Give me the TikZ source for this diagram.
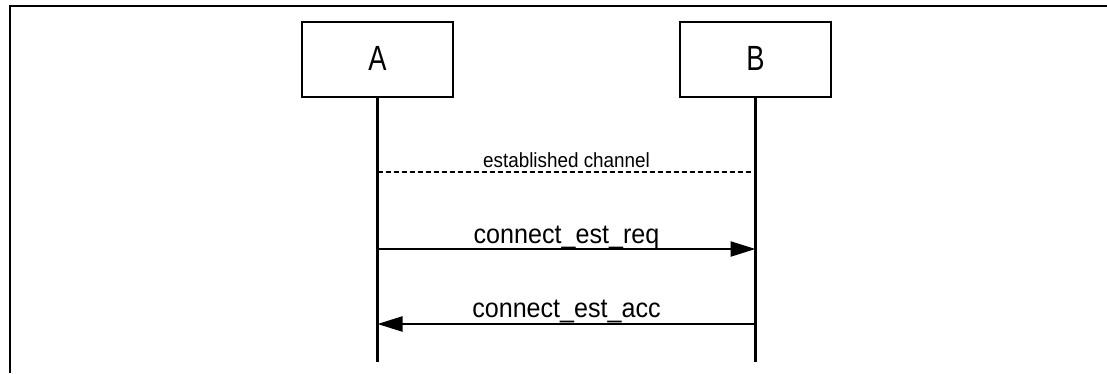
\documentclass[tikz,border=0pt]{standalone}
\usepackage{fontspec}
\setmainfont{Liberation Sans}
\usetikzlibrary{arrows.meta}
\begin{document}
\begin{tikzpicture}[x=1pt,y=-1pt,
  ln/.style={line width=2.3pt},
  objbox/.style={draw,line width=2.3pt,minimum width=151pt,minimum height=75pt,
    inner sep=0pt,text height=25pt,text depth=4pt,font=\fontsize{35}{38}\selectfont},
  msg/.style={line width=2.3pt,-{Triangle[length=25pt,width=15pt]}},
  dashmsg/.style={line width=1.8pt,dash pattern=on 5pt off 3pt},
  msglabel/.style={font=\fontsize{27}{30}\selectfont,inner sep=0pt,anchor=base},
  smalllabel/.style={font=\fontsize{20.5}{24}\selectfont,inner sep=0pt,anchor=base}
]
\useasboundingbox (0,0) rectangle (1107,373);
% frame
\coordinate (fl) at (10,373);
\coordinate (ftl) at (10,6);
\coordinate (ftr) at (1107,6);
\draw[ln] (fl) -- (ftl) -- (ftr);
% objects
\node[objbox] (A) at (377.5,59.5) {\scalebox{0.78}[1]{A}};
\node[objbox] (B) at (755.5,59.5) {\scalebox{0.78}[1]{B}};
\coordinate (Aend) at (377.5,362);
\coordinate (Bend) at (755.5,362);
\draw[ln] (A.south) -- (Aend);
\draw[ln] (B.south) -- (Bend);
% messages
\coordinate (a1) at (377.5,172);
\coordinate (b1) at (755.5,172);
\coordinate (a2) at (377.5,249);
\coordinate (b2) at (755.5,249);
\coordinate (a3) at (377.5,324);
\coordinate (b3) at (755.5,324);
\draw[dashmsg] (a1) -- (b1);
\draw[msg] (a2) -- (b2);
\draw[msg] (b3) -- (a3);
\node[smalllabel] (l1) at (566.5,167) {\scalebox{0.92}[1]{established channel}};
\node[msglabel] (l2) at (566.5,243) {\scalebox{0.93}[1]{connect\_est\_req}};
\node[msglabel] (l3) at (566.5,317) {\scalebox{0.93}[1]{connect\_est\_acc}};
\end{tikzpicture}
\end{document}
